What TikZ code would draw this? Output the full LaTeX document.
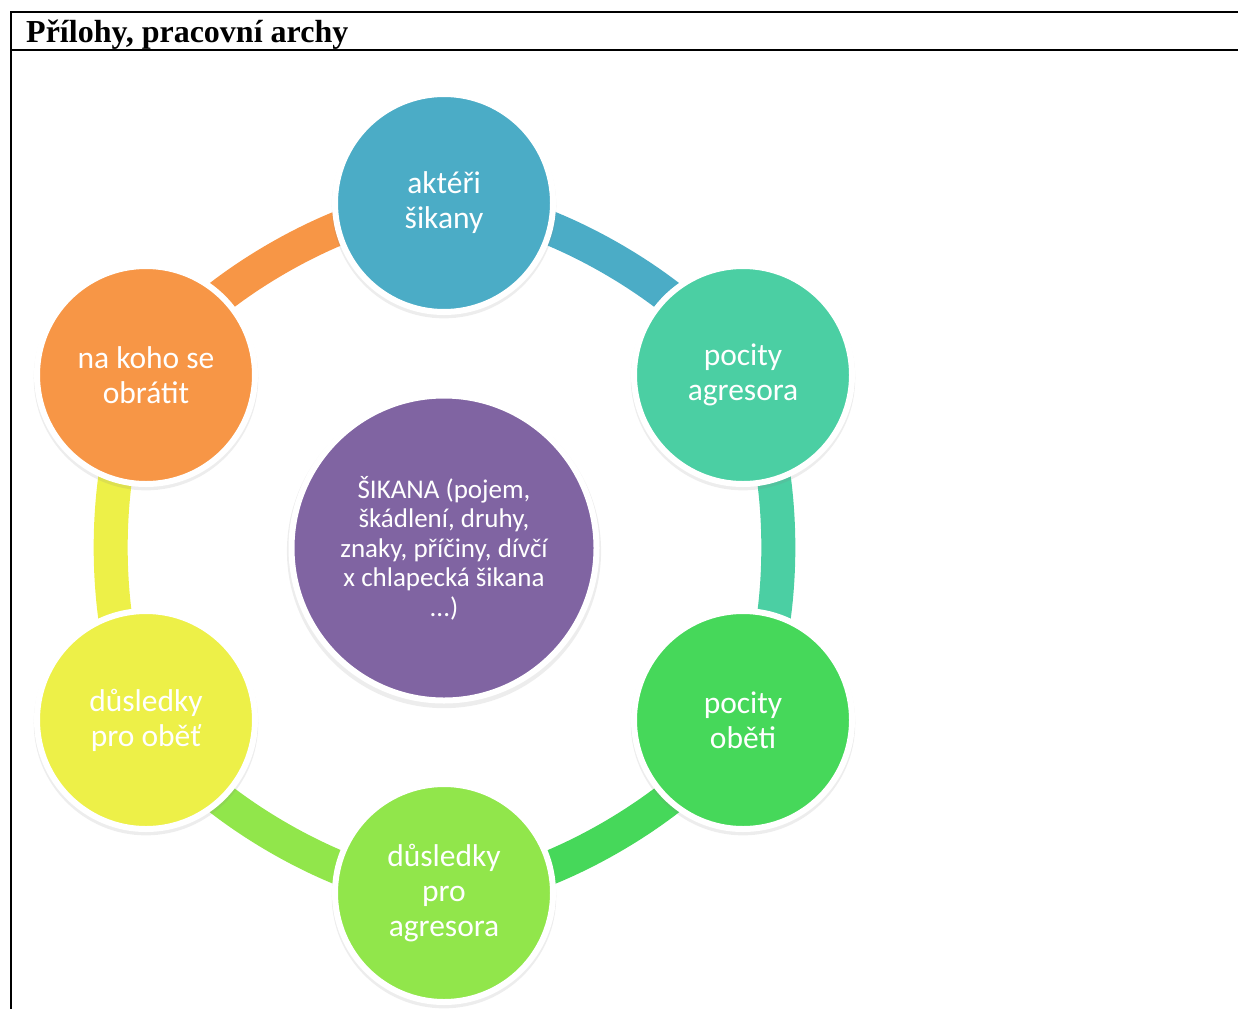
\documentclass[tikz,border=0pt]{standalone}
\usepackage{fontspec}
\setmainfont{Carlito}
\newfontfamily\headfont{Liberation Serif}
\usetikzlibrary{shadows}
\definecolor{cpurple}{RGB}{128,100,162}
\definecolor{cblue}{RGB}{75,172,198}
\definecolor{cteal}{RGB}{75,207,163}
\definecolor{cgreen}{RGB}{70,216,90}
\definecolor{clime}{RGB}{145,230,75}
\definecolor{cyellow}{RGB}{237,240,72}
\definecolor{corange}{RGB}{247,150,70}
\pgfdeclarelayer{background}
\pgfsetlayers{background,main}

\begin{document}
\begin{tikzpicture}[x=1pt,y=1pt,
    bubble/.style={circle, draw=white, line width=6pt, minimum size=218pt, inner sep=0pt,
        text=white, align=center, font=\fontsize{31.5}{35}\selectfont,
        drop shadow={shadow xshift=0pt, shadow yshift=-3pt, shadow scale=1.03, opacity=0.14}},
    big/.style={minimum size=305pt, font=\fontsize{27}{29.5}\selectfont},
    ring/.style={line width=34pt, draw=#1, bend left=30, looseness=0.7,
        preaction={draw=black, draw opacity=0.12, transform canvas={yshift=-2pt}}}]
    \useasboundingbox (0,0) rectangle (1238,-1009);
    %Frame
    \draw[line width=2pt] (10,-12) -- (1238,-12);
    \draw[line width=2pt] (10,-49.5) -- (1238,-49.5);
    \draw[line width=2pt] (10.5,-12) -- (10.5,-1009);
    \node[anchor=base west, inner sep=0pt, font=\headfont\bfseries\fontsize{32}{34}\selectfont] (title) at (26,-42) {Přílohy, pracovní archy};
    %Centre
    \node[bubble, big, fill=cpurple] (sikana) at (444,-548) {ŠIKANA (pojem,\\škádlení, druhy,\\znaky, příčiny, dívčí\\x chlapecká šikana\\...)};
    %Ring
    \node[bubble, fill=cblue] (akteri) at (444,-203) {aktéři\\šikany};
    \node[bubble, fill=cteal] (pocagr) at (743,-375) {pocity\\agresora};
    \node[bubble, fill=cgreen] (pocobe) at (743,-720) {pocity\\oběti};
    \node[bubble, fill=clime] (dusagr) at (444,-893) {důsledky\\pro\\agresora};
    \node[bubble, fill=cyellow] (dusobe) at (146,-720) {důsledky\\pro oběť};
    \node[bubble, fill=corange] (nakoho) at (146,-375) {na koho se\\obrátit};
    %Connectors
    \begin{pgfonlayer}{background}
    \draw[ring=cblue] (akteri.center) to (pocagr.center);
    \draw[ring=cteal] (pocagr.center) to (pocobe.center);
    \draw[ring=cgreen] (pocobe.center) to (dusagr.center);
    \draw[ring=clime] (dusagr.center) to (dusobe.center);
    \draw[ring=cyellow] (dusobe.center) to (nakoho.center);
    \draw[ring=corange] (nakoho.center) to (akteri.center);
    \end{pgfonlayer}
\end{tikzpicture}
\end{document}
